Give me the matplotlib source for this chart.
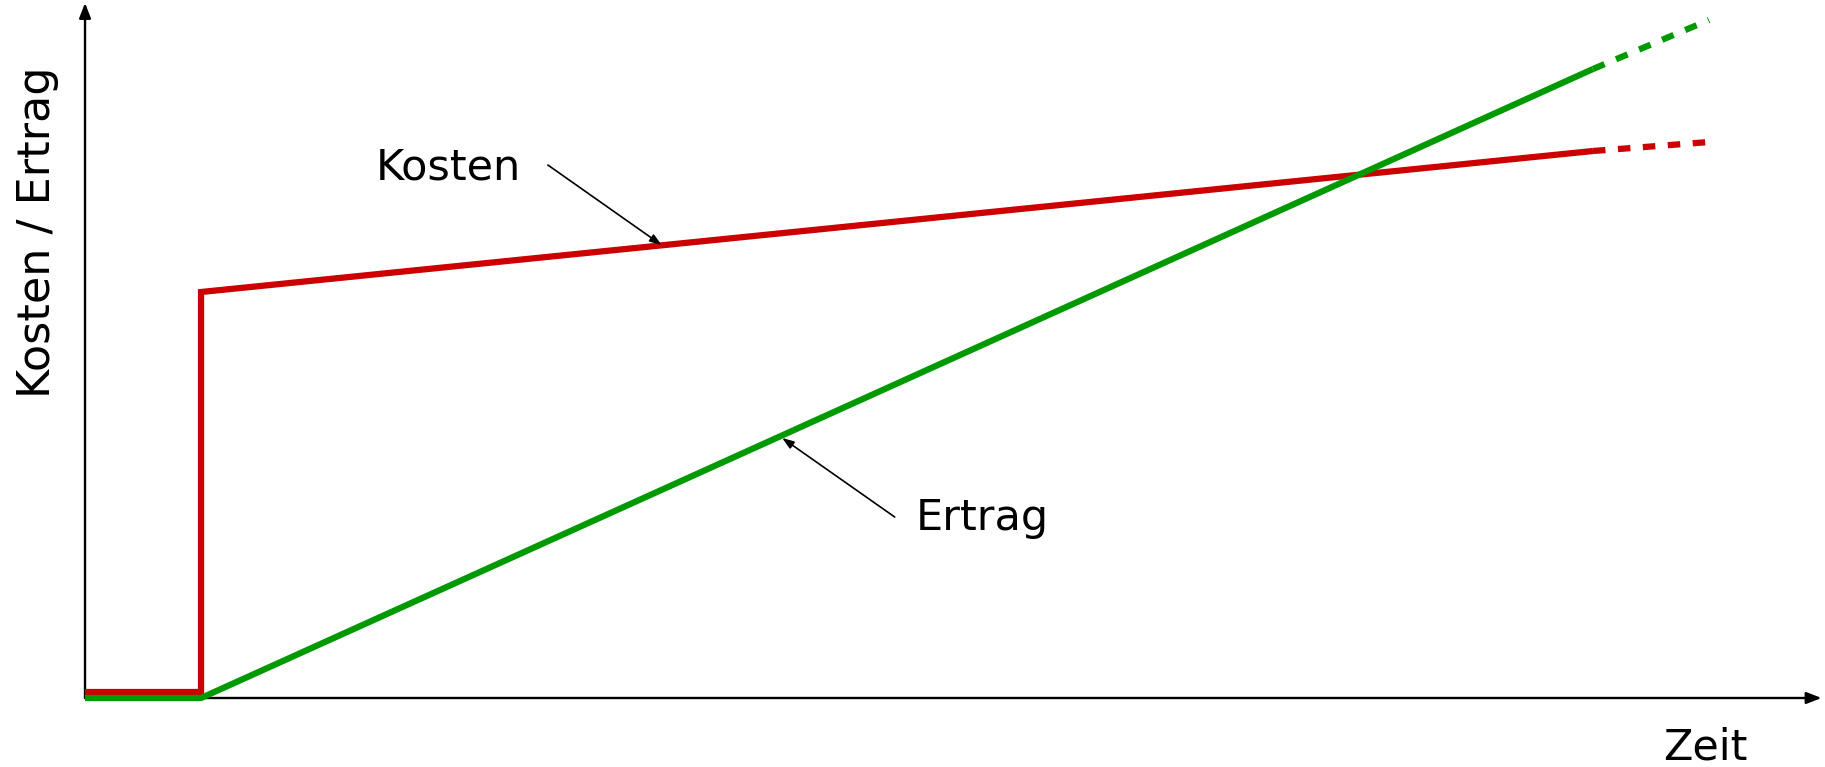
import numpy as np
import matplotlib.pyplot as plt

# Zeitpunkte und Werte
t_solid = [0, 1, 1, 13]
kosten_solid = [0.06, 0.06, 4.06, 5.47]
t_ertrag = [0, 1, 13]
ertrag_solid = [0.0, 0.0, 6.29]
t_dash = [13, 14]
kosten_dash = [5.47, 5.56]
ertrag_dash = [6.29, 6.78]

red = '#cc0000'
green = '#009900'

fig = plt.figure(figsize=(18.25, 7.67), dpi=100)
ax = fig.add_axes([0, 0, 1, 1])
ax.set_xlim(-0.733, 15.0)
ax.set_ylim(-0.69, 6.98)
ax.axis('off')

ax.plot(t_ertrag, ertrag_solid, color=green, lw=4.5, solid_capstyle='butt', zorder=3)
ax.plot(t_solid, kosten_solid, color=red, lw=4.5, solid_capstyle='butt', solid_joinstyle='miter', zorder=2)
ax.plot(t_dash, ertrag_dash, color=green, lw=4.5, ls=(0, (2.0, 2.0)), dash_capstyle='butt')
ax.plot(t_dash, kosten_dash, color=red, lw=4.5, ls=(0, (2.0, 2.0)), dash_capstyle='butt')

# Achsen mit Pfeilen
arr = dict(arrowstyle='-|>,head_length=0.9,head_width=0.35', color='black', lw=1.7, shrinkA=0, shrinkB=0)
ax.annotate('', xy=(14.97, 0), xytext=(0, 0), arrowprops=arr, zorder=1)
ax.annotate('', xy=(0, 6.95), xytext=(0, 0), arrowprops=arr, zorder=1)

fs = 31
ax.text(-0.41, 4.66, 'Kosten / Ertrag', rotation=90, ha='center', va='center', fontsize=32)
ax.text(13.97, -0.61, 'Zeit', ha='center', va='baseline', fontsize=fs)

small = dict(arrowstyle='-|>,head_length=0.7,head_width=0.25', color='black', lw=1.2, shrinkA=0, shrinkB=0)
ax.annotate('', xy=(4.97, 4.53), xytext=(3.99, 5.33), arrowprops=small)
ax.text(2.51, 5.31, 'Kosten', ha='left', va='center', fontsize=fs)
ax.annotate('', xy=(6.01, 2.60), xytext=(6.98, 1.81), arrowprops=small)
ax.text(7.16, 1.68, 'Ertrag', ha='left', va='baseline', fontsize=fs)

fig.savefig('out.png', dpi=100)
